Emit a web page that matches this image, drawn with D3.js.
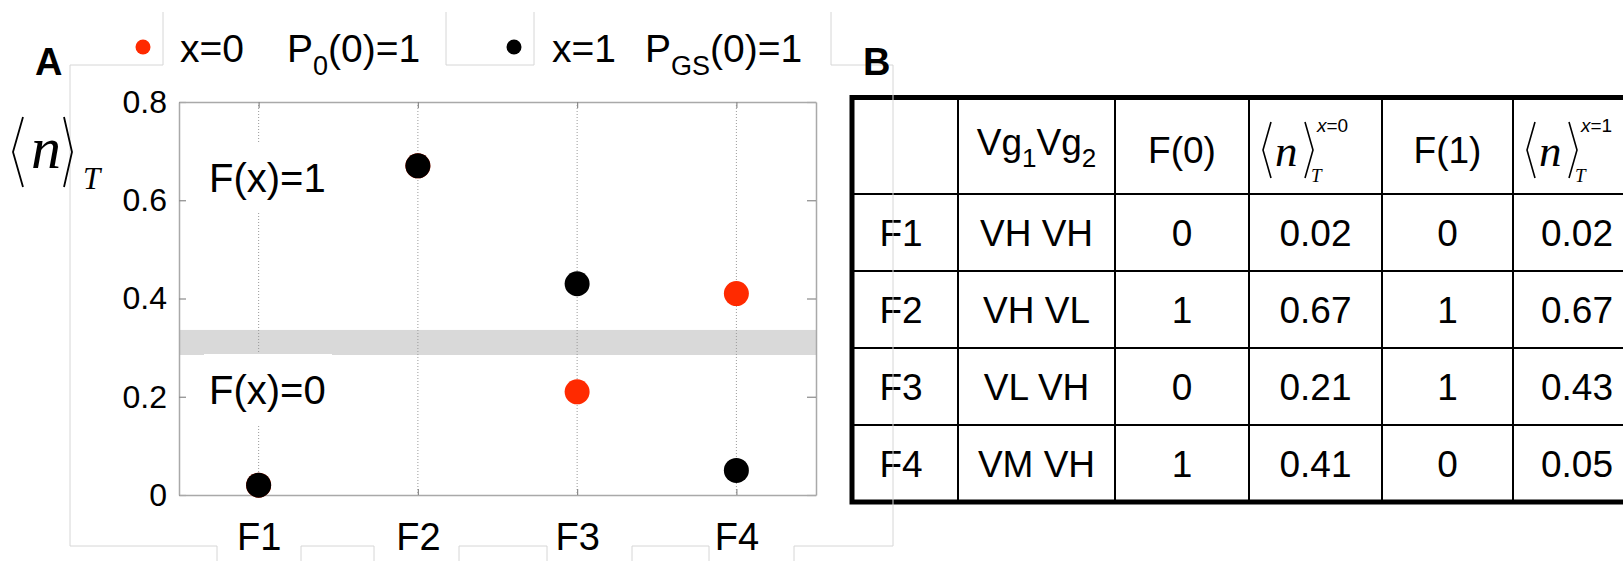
<!DOCTYPE html>
<html>
<head>
<meta charset="utf-8">
<script src="https://cdn.jsdelivr.net/npm/d3@7"></script>
<style>
  html, body { margin: 0; padding: 0; background: #fff; }
  svg { display: block; }
  text { font-family: "Liberation Sans", Arial, Helvetica, sans-serif; fill: #000; }
  .serif { font-family: "Liberation Serif", "Times New Roman", serif; font-style: italic; }
</style>
</head>
<body>
<svg id="fig" width="1623" height="561"></svg>
<script>
// ---- data -------------------------------------------------------------
const categories      = ["F1", "F2", "F3", "F4"];
const gateSettings    = ["VH VH", "VH VL", "VL VH", "VM VH"];
const logicX0         = [0, 1, 0, 1];
const occupationX0    = [0.02, 0.67, 0.21, 0.41];
const logicX1         = [0, 1, 1, 0];
const occupationX1    = [0.02, 0.67, 0.43, 0.05];
const yTickValues     = [0, 0.2, 0.4, 0.6, 0.8];
const yTickLabels     = ["0", "0.2", "0.4", "0.6", "0.8"];
const thresholdBand   = [0.285, 0.336];
const levelLabels     = ["F(x)=1", "F(x)=0"];
const seriesColors    = ["#ff2a00", "#000000"];

const svg = d3.select("#fig");
const RED = seriesColors[0], BLACK = seriesColors[1];

// ---- panel B : truth table --------------------------------------------
const colEdges = [852, 958, 1115, 1249, 1382, 1513, 1641];
const rowEdges = [97.5, 194, 271, 348, 425, 502];
const tbl = svg.append("g");
const colMid = i => (colEdges[i] + colEdges[i + 1]) / 2;
const rowMid = i => (rowEdges[i] + rowEdges[i + 1]) / 2;

// inner rules
colEdges.slice(1, -1).forEach(x =>
  tbl.append("line").attr("x1", x).attr("x2", x)
     .attr("y1", rowEdges[0]).attr("y2", rowEdges[rowEdges.length - 1])
     .attr("stroke", "#000").attr("stroke-width", 2));
rowEdges.slice(1, -1).forEach(y =>
  tbl.append("line").attr("x1", colEdges[0]).attr("x2", colEdges[colEdges.length - 1])
     .attr("y1", y).attr("y2", y)
     .attr("stroke", "#000").attr("stroke-width", 2));
// outer border
tbl.append("rect")
   .attr("x", colEdges[0]).attr("y", rowEdges[0])
   .attr("width", colEdges[colEdges.length - 1] - colEdges[0])
   .attr("height", rowEdges[rowEdges.length - 1] - rowEdges[0])
   .attr("fill", "none").attr("stroke", "#000").attr("stroke-width", 5);

const cellFont = 37;
// header: Vg1Vg2
const hVg = tbl.append("text").attr("x", colMid(1)).attr("y", 155)
  .attr("text-anchor", "middle").attr("font-size", cellFont);
hVg.append("tspan").text("Vg");
hVg.append("tspan").attr("font-size", 26).attr("dy", 12).text("1");
hVg.append("tspan").attr("dy", -12).text("Vg");
hVg.append("tspan").attr("font-size", 26).attr("dy", 12).text("2");
// header: F(0), F(1)
tbl.append("text").attr("x", colMid(2)).attr("y", 163).attr("text-anchor", "middle")
   .attr("font-size", cellFont).text("F(0)");
tbl.append("text").attr("x", colMid(4)).attr("y", 163).attr("text-anchor", "middle")
   .attr("font-size", cellFont).text("F(1)");

// header: <n>_T^{x=..}
function meanOccupation(g, left, supText) {
  const bx = left;            // left bracket apex
  g.append("path").attr("d", `M${bx + 8},122 L${bx},150 L${bx + 8},178`)
   .attr("fill", "none").attr("stroke", "#000").attr("stroke-width", 1.6);
  g.append("text").attr("class", "serif").attr("x", bx + 12).attr("y", 166)
   .attr("font-size", 45).text("n");
  g.append("path").attr("d", `M${bx + 42},122 L${bx + 50},150 L${bx + 42},178`)
   .attr("fill", "none").attr("stroke", "#000").attr("stroke-width", 1.6);
  const sup = g.append("text").attr("x", bx + 54).attr("y", 132)
   .attr("font-size", 19).attr("font-family", "Liberation Serif, Times New Roman, serif");
  sup.append("tspan").attr("font-style", "italic").text(supText.slice(0, 1));
  sup.append("tspan").text(supText.slice(1));
  g.append("text").attr("class", "serif").attr("x", bx + 48).attr("y", 182)
   .attr("font-size", 19).text("T");
}
meanOccupation(tbl, colEdges[3] + 14, "x=0");
meanOccupation(tbl, colEdges[5] + 14, "x=1");

// body rows
const fmt2 = d3.format(".2f");
categories.forEach((c, i) => {
  const vals = [c, gateSettings[i], String(logicX0[i]), fmt2(occupationX0[i]),
                String(logicX1[i]), fmt2(occupationX1[i])];
  vals.forEach((v, j) => {
    tbl.append("text").attr("x", colMid(j) - (j === 0 ? 4 : 0)).attr("y", rowMid(i + 1) + 13.5)
       .attr("text-anchor", "middle").attr("font-size", cellFont).text(v);
  });
});

// ---- faint figure frame around panel A --------------------------------
const frameSegs = [
  [70, 65, 163, 65], [163, 12, 163, 65],
  [446, 12, 446, 65], [446, 65, 534, 65], [534, 12, 534, 65],
  [831, 12, 831, 65], [831, 65, 893, 65], [893, 65, 893, 546],
  [70, 65, 70, 546], [70, 546, 217, 546], [217, 546, 217, 561],
  [301, 561, 301, 546], [301, 546, 374, 546], [374, 546, 374, 561],
  [459, 561, 459, 546], [459, 546, 547, 546], [547, 546, 547, 561],
  [632, 561, 632, 546], [632, 546, 709, 546], [709, 546, 709, 561],
  [794, 561, 794, 546], [794, 546, 893, 546]
];
svg.append("g").selectAll("line").data(frameSegs).join("line")
  .attr("x1", d => d[0]).attr("y1", d => d[1]).attr("x2", d => d[2]).attr("y2", d => d[3])
  .attr("stroke", "#d6d6d6").attr("stroke-width", 1);

// panel letters
svg.append("text").attr("x", 35).attr("y", 75).attr("font-size", 38)
   .attr("font-weight", "bold").text("A");
svg.append("text").attr("x", 863).attr("y", 75).attr("font-size", 38)
   .attr("font-weight", "bold").text("B");

// ---- panel A : scatter ------------------------------------------------
const plot = { left: 179, right: 816, top: 102, bottom: 495 };
const x = d3.scalePoint().domain(categories).range([plot.left, plot.right]).padding(0.5);
const y = d3.scaleLinear().domain([0, 0.8]).range([plot.bottom, plot.top]);

const pa = svg.append("g");

// threshold band separating F=0 from F=1
pa.append("rect")
  .attr("x", plot.left).attr("width", plot.right - plot.left)
  .attr("y", y(thresholdBand[1])).attr("height", y(thresholdBand[0]) - y(thresholdBand[1]))
  .attr("fill", "#d9d9d9");

// dotted vertical grid
pa.append("g").selectAll("line").data(categories).join("line")
  .attr("x1", d => x(d)).attr("x2", d => x(d))
  .attr("y1", plot.top).attr("y2", plot.bottom)
  .attr("stroke", "#9a9a9a").attr("stroke-width", 1).attr("stroke-dasharray", "1,2");

// region labels on white boxes
const lvl = [{ t: levelLabels[0], yb: 192 }, { t: levelLabels[1], yb: 404 }];
lvl.forEach(l => {
  pa.append("rect").attr("x", 204).attr("y", l.yb - 50).attr("width", 128).attr("height", 70)
    .attr("fill", "#fff");
  pa.append("text").attr("x", 209).attr("y", l.yb).attr("font-size", 40).text(l.t);
});

// axes (box with inward ticks)
function styleAxis(g) {
  g.select(".domain").attr("stroke", "#a9a9a9").attr("stroke-width", 1.5);
  g.selectAll(".tick line").attr("stroke", "#8a8a8a").attr("stroke-width", 1.2);
}
pa.append("g").attr("transform", `translate(${plot.left},0)`)
  .call(d3.axisLeft(y).tickValues(yTickValues).tickFormat((d, i) => yTickLabels[i])
        .tickSizeInner(-7).tickSizeOuter(0).tickPadding(12))
  .call(styleAxis)
  .call(g => g.selectAll(".tick text").attr("font-size", 32).attr("fill", "#222")
              .attr("font-family", "Liberation Sans, Arial, sans-serif"));
pa.append("g").attr("transform", `translate(${plot.right},0)`)
  .call(d3.axisRight(y).tickValues(yTickValues).tickFormat("")
        .tickSizeInner(-9).tickSizeOuter(0))
  .call(styleAxis);
pa.append("g").attr("transform", `translate(0,${plot.top})`)
  .call(d3.axisTop(x).tickFormat("").tickSizeInner(-6).tickSizeOuter(0))
  .call(styleAxis);
pa.append("g").attr("transform", `translate(0,${plot.bottom})`)
  .call(d3.axisBottom(x).tickSizeInner(-6).tickSizeOuter(0).tickPadding(28))
  .call(styleAxis)
  .call(g => g.selectAll(".tick text").attr("font-size", 38).attr("fill", "#000")
              .attr("font-family", "Liberation Sans, Arial, sans-serif"));

// markers: x=0 series (red) under x=1 series (black)
[occupationX0, occupationX1].forEach((series, s) => {
  pa.append("g").selectAll("circle").data(series).join("circle")
    .attr("cx", (d, i) => x(categories[i])).attr("cy", d => y(d))
    .attr("r", 12.5).attr("fill", seriesColors[s]);
});

// y-axis label  <n>_T
const yl = svg.append("g");
yl.append("path").attr("d", "M23,117 L13,152 L23,187")
  .attr("fill", "none").attr("stroke", "#000").attr("stroke-width", 1.8);
yl.append("text").attr("class", "serif").attr("x", 31).attr("y", 168)
  .attr("font-size", 60).text("n");
yl.append("path").attr("d", "M64,117 L72,152 L64,187")
  .attr("fill", "none").attr("stroke", "#000").attr("stroke-width", 1.8);
yl.append("text").attr("class", "serif").attr("x", 83).attr("y", 189)
  .attr("font-size", 31).text("T");

// ---- legend -----------------------------------------------------------
const lg = svg.append("g");
lg.append("circle").attr("cx", 143).attr("cy", 47).attr("r", 7.5).attr("fill", RED);
lg.append("text").attr("x", 180).attr("y", 62).attr("font-size", 39).text("x=0");
const l0 = lg.append("text").attr("x", 287).attr("y", 62).attr("font-size", 39);
l0.append("tspan").text("P");
l0.append("tspan").attr("font-size", 27).attr("dy", 13).text("0");
l0.append("tspan").attr("dy", -13).text("(0)=1");

lg.append("circle").attr("cx", 514).attr("cy", 47).attr("r", 7.5).attr("fill", BLACK);
lg.append("text").attr("x", 552).attr("y", 62).attr("font-size", 39).text("x=1");
const l1 = lg.append("text").attr("x", 645).attr("y", 62).attr("font-size", 39);
l1.append("tspan").text("P");
l1.append("tspan").attr("font-size", 27).attr("dy", 13).text("GS");
l1.append("tspan").attr("dy", -13).text("(0)=1");
</script>
</body>
</html>
